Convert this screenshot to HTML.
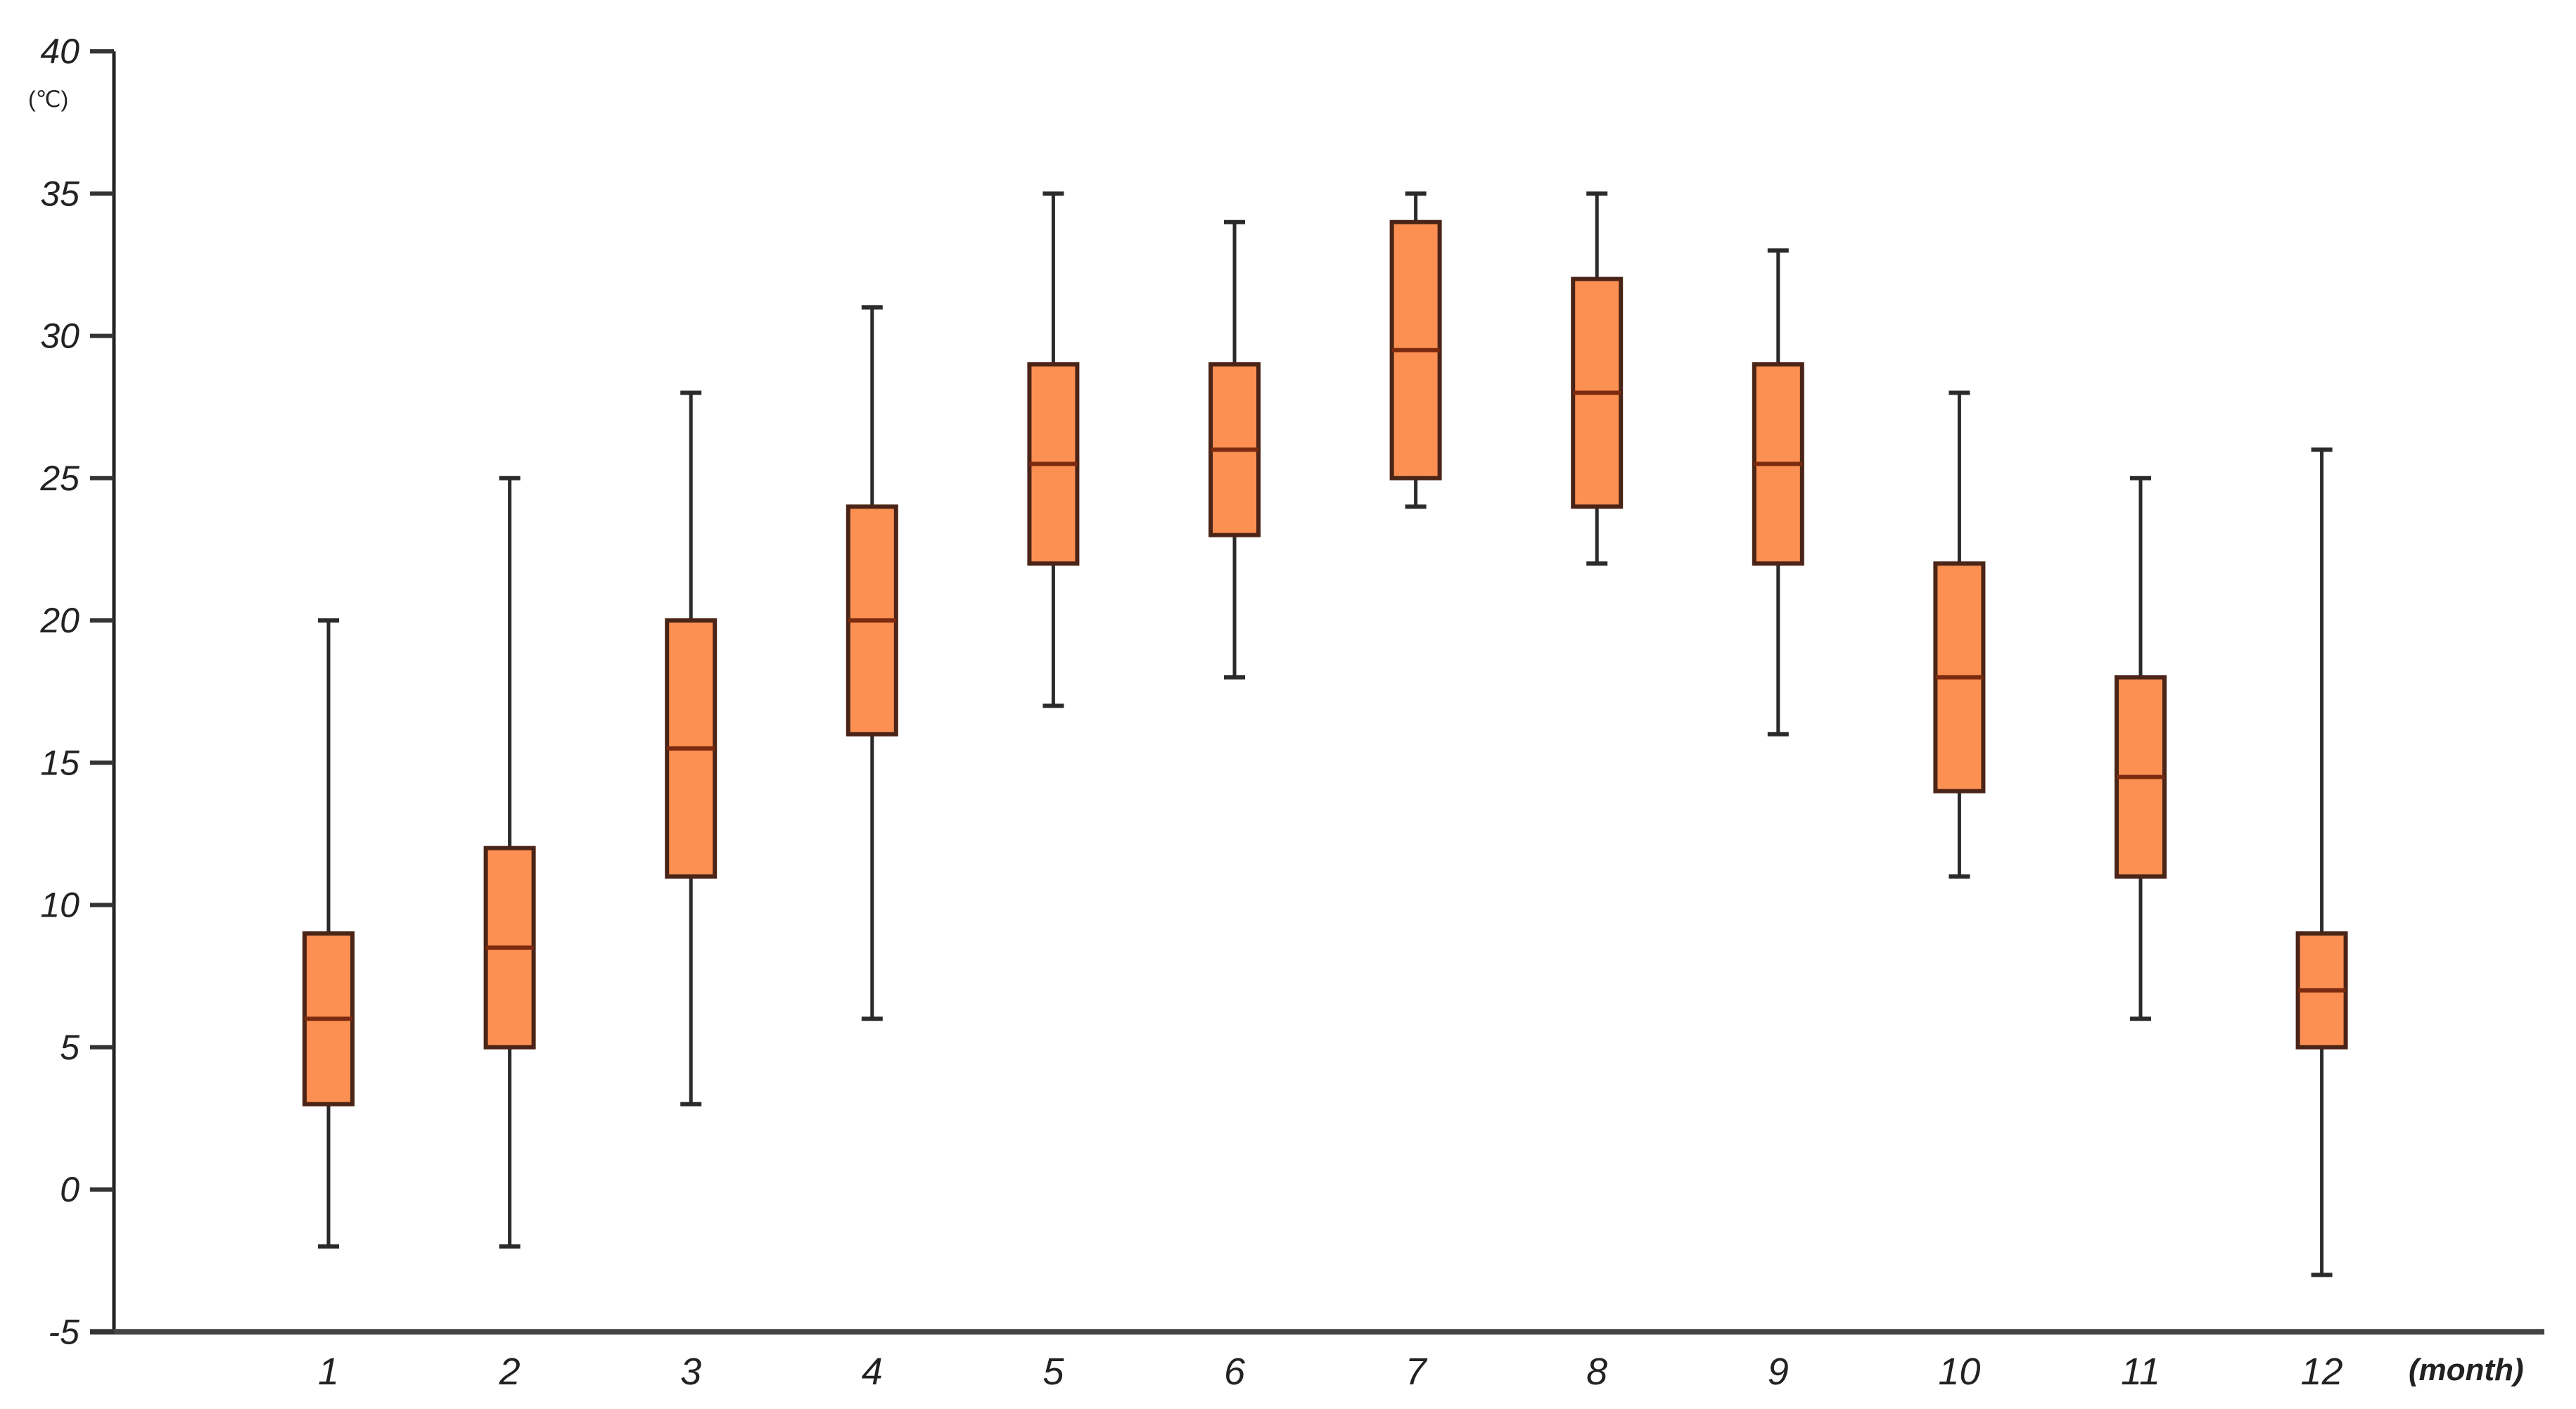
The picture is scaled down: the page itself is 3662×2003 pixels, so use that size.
<!DOCTYPE html>
<html><head><meta charset="utf-8"><style>
html,body{margin:0;padding:0;background:#fff;}
svg{display:block;}
text{font-family:"Liberation Sans",sans-serif;font-style:italic;fill:#222;}
</style></head><body>
<svg id="chart" width="3662" height="2003" viewBox="0 0 3662 2003" xmlns="http://www.w3.org/2000/svg">
<g id="axes"></g>
<g id="boxes"></g>
</svg>
<script>
const months = ["1","2","3","4","5","6","7","8","9","10","11","12"];
const mins   = [-2, -2, 3, 6, 17, 18, 24, 22, 16, 11, 6, -3];
const q1s    = [3, 5, 11, 16, 22, 23, 25, 24, 22, 14, 11, 5];
const medians= [6, 8.5, 15.5, 20, 25.5, 26, 29.5, 28, 25.5, 18, 14.5, 7];
const q3s    = [9, 12, 20, 24, 29, 29, 34, 32, 29, 22, 18, 9];
const maxs   = [20, 25, 28, 31, 35, 34, 35, 35, 33, 28, 25, 26];
const yTicks = [-5, 0, 5, 10, 15, 20, 25, 30, 35, 40];

const NS = "http://www.w3.org/2000/svg";
function y(v){ return 1691 - 40.45 * v; }
function x(i){ return 467 + 257.6 * i; }
function mk(tag, attrs, parent){
  const e = document.createElementNS(NS, tag);
  for (const k in attrs) e.setAttribute(k, attrs[k]);
  parent.appendChild(e); return e;
}
const axes = document.getElementById('axes');
const boxes = document.getElementById('boxes');

let ya = mk('line', {x1:162, y1:y(40), x2:162, y2:y(-5), stroke:'#222', 'stroke-width':5}, axes);


let xa = mk('line', {x1:128, y1:y(-5), x2:3617, y2:y(-5), stroke:'#444', 'stroke-width':8}, axes);



yTicks.forEach(function(t){
  let tk = mk('line', {x1:128, y1:y(t), x2:162, y2:y(t), stroke:'#333', 'stroke-width':6}, axes);
  
  
  let lb = mk('text', {x:113, y:y(t)+17, 'text-anchor':'end', 'font-size':50}, axes);
  lb.textContent = String(t);
  
  
});
let unit = mk('text', {x:40, y:152, 'font-size':32, style:'font-style:normal'}, axes);
unit.textContent = '(℃)';



months.forEach(function(m, i){
  let lb = mk('text', {x:x(i), y:1968, 'text-anchor':'middle', 'font-size':54}, axes);
  lb.textContent = m;
  
  
});
let mt = mk('text', {x:3424, y:1962, 'font-size':44, 'font-weight':'bold'}, axes);
mt.textContent = '(month)';



const bw = 68, cw = 30;
months.forEach(function(m, i){
  const cx = x(i);
  const g = mk('g', {}, boxes);
  
  
  mk('line', {x1:cx, y1:y(maxs[i]), x2:cx, y2:y(q3s[i]), stroke:'#2a2a2a', 'stroke-width':5}, g);
  mk('line', {x1:cx, y1:y(q1s[i]), x2:cx, y2:y(mins[i]), stroke:'#2a2a2a', 'stroke-width':5}, g);
  mk('line', {x1:cx-cw/2, y1:y(maxs[i]), x2:cx+cw/2, y2:y(maxs[i]), stroke:'#2a2a2a', 'stroke-width':6}, g);
  mk('line', {x1:cx-cw/2, y1:y(mins[i]), x2:cx+cw/2, y2:y(mins[i]), stroke:'#2a2a2a', 'stroke-width':6}, g);
  mk('rect', {x:cx-bw/2, y:y(q3s[i]), width:bw, height:y(q1s[i])-y(q3s[i]), fill:'#fc9052', stroke:'#4a2416', 'stroke-width':6}, g);
  mk('line', {x1:cx-bw/2, y1:y(medians[i]), x2:cx+bw/2, y2:y(medians[i]), stroke:'#7a2a10', 'stroke-width':6}, g);
});
</script>
</body></html>
